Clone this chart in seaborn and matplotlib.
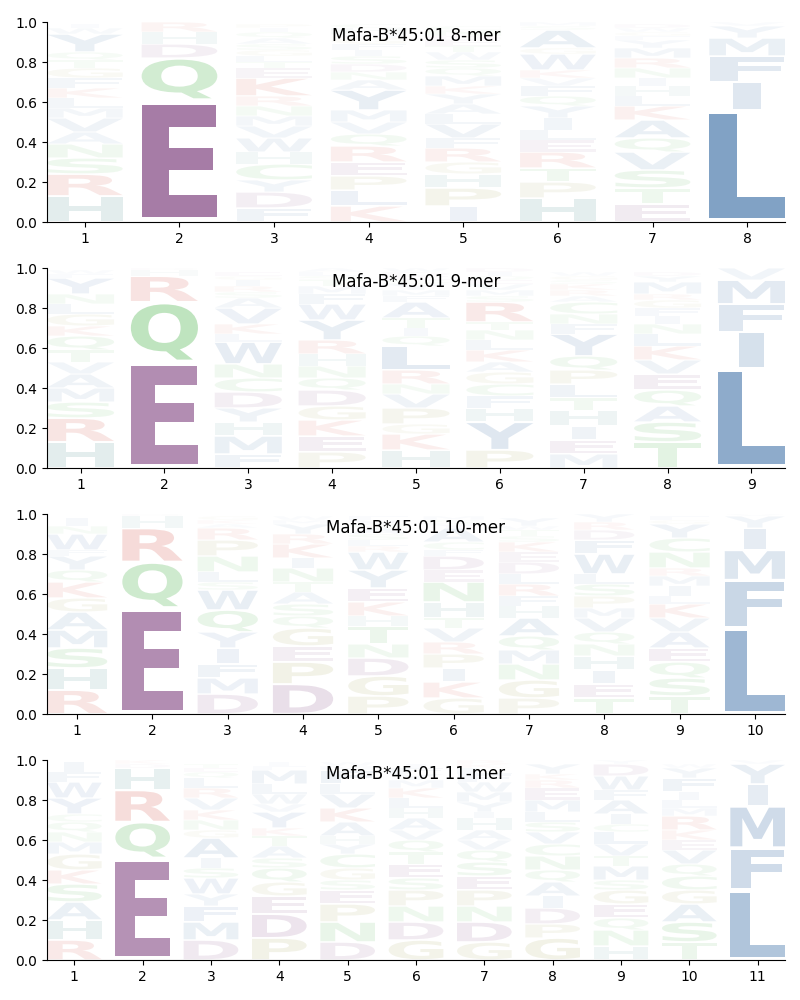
import matplotlib
matplotlib.use("Agg")
import matplotlib.pyplot as plt
import seaborn as sns
from matplotlib.textpath import TextPath
from matplotlib.font_manager import FontProperties
from matplotlib.patches import PathPatch
from matplotlib.transforms import Affine2D

# letters per position are listed bottom -> top, heights are the stacked frequencies
titles = ["Mafa-B*45:01 8-mer", "Mafa-B*45:01 9-mer",
          "Mafa-B*45:01 10-mer", "Mafa-B*45:01 11-mer"]

mer8_letters = ["HRSNAVMLKFGTQYWI", "EQDHRK", "FDYCHWVMNRKETLGSAQIP",
                "KLPERQVMYANDSIFGWHC", "IPHGRFVLAYKMQSWTEDNC",
                "HPTRELIYQFVKWGASM", "ETSVQAKLHINRMYFGWD", "LIFMYV"]
mer8_heights = [
    [.13, .11, .08, .07, .06, .07, .05, .05, .05, .05, .05, .04, .04, .09, .03, .02],
    [.61, .21, .07, .06, .05, .00],
    [.07, .08, .06, .08, .06, .07, .06, .05, .05, .05, .09, .05, .03, .03, .03, .03, .03, .03, .02, .02],
    [.08, .08, .07, .07, .08, .06, .06, .06, .10, .05, .04, .04, .04, .03, .03, .03, .02, .03, .02],
    [.08, .09, .07, .06, .07, .05, .07, .05, .05, .05, .04, .05, .04, .04, .04, .03, .03, .02, .03, .02],
    [.12, .08, .07, .08, .06, .05, .06, .06, .05, .05, .04, .04, .08, .03, .09, .02, .02],
    [.09, .08, .09, .09, .07, .09, .07, .05, .05, .04, .05, .05, .05, .04, .02, .02, .02, .02],
    [.56, .14, .13, .09, .06, .02],
]

mer9_letters = ["HRSMAVTQKGLNYFW", "EQRHD", "FMHYDCNWLKVASRIGE",
                "PEKGDQNHRYWFMTSLA", "HKGPVNRLQITAFMYSEDW",
                "PYHFCGAKLNTRSMVEQID", "MEIHTLPQYFNCARKSGW",
                "TSAQEVKLNIFGRMYD", "LIFMV"]
mer9_heights = [
    [.13, .12, .08, .07, .07, .06, .06, .07, .05, .06, .05, .05, .08, .02, .02],
    [.53, .30, .13, .03, .01],
    [.07, .09, .07, .07, .08, .07, .07, .11, .04, .05, .08, .05, .03, .03, .03, .02, .02],
    [.08, .08, .08, .07, .08, .06, .06, .06, .07, .10, .08, .05, .04, .03, .02, .02, .02],
    [.09, .08, .05, .08, .07, .05, .07, .12, .05, .04, .05, .08, .03, .03, .03, .02, .02, .02, .02],
    [.09, .14, .07, .06, .06, .06, .05, .06, .05, .05, .04, .10, .03, .03, .03, .02, .02, .02, .02],
    [.07, .07, .07, .08, .06, .07, .07, .07, .11, .05, .05, .06, .03, .03, .03, .02, .02, .02],
    [.13, .10, .08, .08, .08, .07, .07, .06, .05, .04, .04, .04, .03, .06, .03, .02],
    [.50, .18, .14, .12, .06],
]

mer10_letters = ["RHSMAGKQYFWNI", "EQRHD", "DMFIYQWSLNPRAKG",
                 "DPEGQSATNIKRYMW", "PGDNTHKEYWRLSAQVF",
                 "GKIPRVTHNEDFCAYSM", "PGNMQAHFRLDEKSTWY",
                 "TEIHNQVMPSLWFDRY", "TSQEAVKLIMRNCYGF", "LFMIYV"]
mer10_heights = [
    [.12, .11, .10, .09, .09, .07, .08, .06, .07, .03, .08, .04, .04],
    [.53, .23, .17, .06, .01],
    [.10, .08, .07, .08, .08, .11, .10, .04, .05, .08, .08, .06, .02, .02, .02],
    [.15, .11, .08, .09, .06, .06, .06, .05, .07, .05, .07, .05, .05, .02, .02],
    [.09, .10, .09, .07, .09, .05, .07, .07, .09, .09, .03, .03, .03, .03, .02, .02, .02],
    [.08, .08, .07, .07, .06, .07, .05, .08, .10, .06, .07, .03, .04, .07, .02, .02, .02],
    [.08, .09, .08, .07, .07, .09, .06, .05, .06, .05, .06, .05, .05, .03, .03, .02, .04],
    [.08, .07, .07, .07, .06, .06, .07, .05, .06, .06, .05, .10, .07, .05, .04, .04],
    [.09, .09, .08, .07, .08, .07, .07, .04, .05, .05, .04, .08, .07, .07, .02, .02],
    [.43, .24, .15, .11, .06, .01],
]

mer11_letters = ["RHASKGMNQCYWFI", "EQRHDK", "DMFYWSIAGNKVRLQET",
                 "PDEGQSATKYVWLMFI", "DNPESGCYHAKVLFMW",
                 "GDNPSETQVAHLKMYFI", "GDNPESQVAHIYMWFLKR",
                 "GPDIAQNCVSLMERKY", "HNQEGSMTVLCIAFWDY",
                 "TSAGCQVEKRMLIFYW", "LFMIYV"]
mer11_heights = [
    [.10, .10, .09, .09, .07, .08, .06, .05, .05, .04, .08, .08, .05, .05],
    [.51, .18, .16, .11, .02, .02],
    [.10, .09, .08, .06, .08, .05, .05, .10, .04, .05, .05, .06, .05, .05, .03, .02, .02],
    [.11, .12, .09, .07, .07, .05, .06, .05, .04, .08, .04, .05, .05, .07, .02, .02],
    [.09, .10, .09, .07, .05, .06, .07, .05, .04, .07, .07, .07, .05, .07, .02, .02],
    [.10, .09, .08, .08, .06, .07, .06, .06, .05, .06, .05, .05, .05, .04, .03, .03, .02],
    [.09, .10, .08, .08, .07, .07, .06, .05, .05, .06, .03, .05, .05, .05, .04, .03, .02, .02],
    [.11, .07, .08, .06, .07, .06, .07, .06, .06, .05, .05, .06, .06, .04, .03, .05],
    [.07, .08, .06, .07, .07, .05, .07, .05, .06, .06, .04, .05, .07, .05, .07, .06, .02],
    [.09, .10, .09, .07, .07, .06, .07, .05, .05, .07, .04, .04, .04, .07, .05, .02],
    [.35, .21, .21, .11, .10, .02],
]

panels = [(mer8_letters, mer8_heights), (mer9_letters, mer9_heights),
          (mer10_letters, mer10_heights), (mer11_letters, mer11_heights)]

# residue colour groups
base = {}
for c in "DE":
    base[c] = (0.43, 0.16, 0.43)
for c in "LIMFVAWY":
    base[c] = (0.12, 0.35, 0.60)
for c in "KR":
    base[c] = (0.80, 0.18, 0.12)
for c in "H":
    base[c] = (0.16, 0.47, 0.47)
for c in "QNSTC":
    base[c] = (0.18, 0.65, 0.18)
for c in "GP":
    base[c] = (0.55, 0.55, 0.16)

sns.set_style("ticks", {"axes.edgecolor": "black", "xtick.color": "black",
                        "ytick.color": "black", "text.color": "black",
                        "xtick.major.size": 3.5, "ytick.major.size": 3.5})
plt.rcParams['font.family'] = ['DejaVu Sans']

fp = FontProperties(family='DejaVu Sans', weight='bold')
glyphs = {c: TextPath((0, 0), c, size=1, prop=fp) for c in "ACDEFGHIKLMNPQRSTVWY"}
e_width = glyphs['E'].get_extents().width


def draw_letter(ax, c, x, y0, h, width=0.8, vpad=0.04):
    path = glyphs[c]
    bb = path.get_extents()
    hs = min(width / bb.width, width / e_width)
    pad = h * vpad
    vs = (h - 2 * pad) / bb.height
    cw = bb.width * hs
    t = Affine2D().translate(-bb.x0, -bb.y0).scale(hs, vs).translate(x - cw / 2, y0 + pad)
    ax.add_patch(PathPatch(t.transform_path(path), fc=base[c], ec='none',
                           alpha=min(1.0, h), lw=0))


fig = plt.figure(figsize=(8, 10), dpi=100)
for i, (letters, heights) in enumerate(panels):
    ax = fig.add_axes([47 / 800, 1 - (222 + 246 * i) / 1000, 738 / 800, 0.2])
    n = len(letters)
    for p in range(n):
        y = 0.0
        for c, h in zip(letters[p], heights[p]):
            if h > 0:
                draw_letter(ax, c, p + 1, y, h)
            y += h
    ax.set_xlim(0.6, n + 0.4)
    ax.set_ylim(0, 1)
    ax.set_xticks(range(1, n + 1))
    ax.set_yticks([0, 0.2, 0.4, 0.6, 0.8, 1.0])
    ax.set_yticklabels(["0.0", "0.2", "0.4", "0.6", "0.8", "1.0"])
    ax.tick_params(labelsize=10)
    sns.despine(ax=ax)
    ax.text(0.5, 0.93, titles[i], transform=ax.transAxes, ha='center',
            va='center', fontsize=12, zorder=10)

fig.savefig("out.png", dpi=100)
